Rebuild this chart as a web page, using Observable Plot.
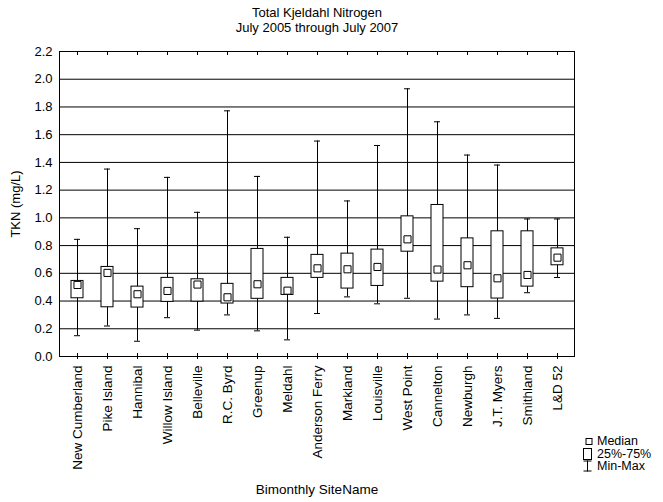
<!DOCTYPE html>
<html>
<head>
<meta charset="utf-8">
<script src="https://cdn.jsdelivr.net/npm/d3@7"></script>
<script src="https://cdn.jsdelivr.net/npm/@observablehq/plot@0.6"></script>
<style>
  body { margin: 0; background: #fff; }
  #wrap { position: relative; width: 663px; height: 502px; font-family: "Liberation Sans", Arial, sans-serif; }
  #legend { position: absolute; left: 582px; top: 435px; font-size: 12.5px; line-height: 12px; color: #000; }
  #legend div { display: flex; align-items: center; height: 12.5px; overflow: visible; }
  #legend svg { margin-right: 3px; flex: none; }
</style>
</head>
<body>
<div id="wrap"></div>
<script>
const sites = ["New Cumberland","Pike Island","Hannibal","Willow Island","Belleville","R.C. Byrd","Greenup","Meldahl","Anderson Ferry","Markland","Louisville","West Point","Cannelton","Newburgh","J.T. Myers","Smithland","L&D 52"];
const mins    = [0.15, 0.22, 0.11, 0.28, 0.19, 0.30, 0.185, 0.12, 0.31, 0.43, 0.38, 0.42, 0.27, 0.30, 0.275, 0.46, 0.57];
const q1s     = [0.42, 0.355, 0.353, 0.394, 0.396, 0.382, 0.416, 0.444, 0.567, 0.49, 0.509, 0.756, 0.54, 0.50, 0.418, 0.504, 0.658];
const medians = [0.516, 0.603, 0.449, 0.473, 0.519, 0.427, 0.521, 0.475, 0.636, 0.629, 0.646, 0.845, 0.627, 0.658, 0.564, 0.588, 0.713];
const q3s     = [0.545, 0.646, 0.504, 0.567, 0.557, 0.524, 0.776, 0.567, 0.733, 0.742, 0.771, 1.011, 1.093, 0.852, 0.903, 0.903, 0.78];
const maxs    = [0.845, 1.352, 0.922, 1.292, 1.04, 1.772, 1.299, 0.86, 1.554, 1.122, 1.522, 1.931, 1.693, 1.453, 1.381, 0.992, 0.992];
const yTicks = [0, 0.2, 0.4, 0.6, 0.8, 1.0, 1.2, 1.4, 1.6, 1.8, 2.0, 2.2];
const titleLines = ["Total Kjeldahl Nitrogen", "July 2005 through July 2007"];

const data = sites.map((s, i) => ({site: s, min: mins[i], q1: q1s[i], median: medians[i], q3: q3s[i], max: maxs[i]}));

const chart = Plot.plot({
  width: 663,
  height: 502,
  marginTop: 51,
  marginBottom: 146,
  marginLeft: 59,
  marginRight: 89,
  style: {fontFamily: '"Liberation Sans", Arial, sans-serif', fontSize: "13px", color: "#000", background: "#fff"},
  x: {type: "band", domain: sites, padding: 0, label: null},
  y: {domain: [0, 2.2], label: null},
  marks: [
    Plot.ruleY(yTicks.slice(1, -1), {stroke: "#000", strokeWidth: 1}),
    Plot.frame({stroke: "#000"}),
    Plot.ruleX(data, {x: "site", y1: "min", y2: "max", stroke: "#000"}),
    Plot.tickY(data, {x: "site", y: "max", stroke: "#000", insetLeft: 12, insetRight: 12}),
    Plot.tickY(data, {x: "site", y: "min", stroke: "#000", insetLeft: 12, insetRight: 12}),
    Plot.barY(data, {x: "site", y1: "q1", y2: "q3", fill: "#fff", stroke: "#000", insetLeft: 9, insetRight: 9}),
    Plot.dot(data, {x: "site", y: "median", symbol: "square", r: 4, fill: "#fff", stroke: "#000", strokeWidth: 1}),
    Plot.axisY({ticks: yTicks, tickFormat: d3.format(".1f"), tickSize: 0, tickPadding: 7, fontSize: 13,
      label: "TKN (mg/L)", labelAnchor: "center", labelArrow: "none", labelOffset: 49}),
    Plot.axisX({tickSize: 3, tickRotate: -90, tickPadding: 6, fontSize: 13.5,
      label: "Bimonthly SiteName", labelAnchor: "center", labelArrow: "none", labelOffset: 137}),
    Plot.axisX({tickSize: -3, text: null, label: null}),
    Plot.axisX({anchor: "top", tickSize: -3, text: null, label: null}),
    Plot.text([titleLines[0]], {frameAnchor: "top", dy: -44, fontSize: 13, text: d => d}),
    Plot.text([titleLines[1]], {frameAnchor: "top", dy: -29, fontSize: 13, text: d => d})
  ]
});

const wrap = document.getElementById("wrap");
wrap.appendChild(chart);

const legend = document.createElement("div");
legend.id = "legend";
legend.innerHTML = `
  <div><svg width="12" height="12"><rect x="4" y="3.5" width="6" height="6" fill="#fff" stroke="#000"/></svg>Median</div>
  <div><svg width="12" height="12"><rect x="1.5" y="0.5" width="8" height="11" fill="#fff" stroke="#000"/></svg>25%-75%</div>
  <div><svg width="12" height="12"><line x1="5.5" y1="0.5" x2="5.5" y2="11.5" stroke="#000"/><line x1="1.5" y1="1" x2="9.5" y2="1" stroke="#000"/><line x1="1.5" y1="11" x2="9.5" y2="11" stroke="#000"/></svg>Min-Max</div>`;
wrap.appendChild(legend);
</script>
</body>
</html>
